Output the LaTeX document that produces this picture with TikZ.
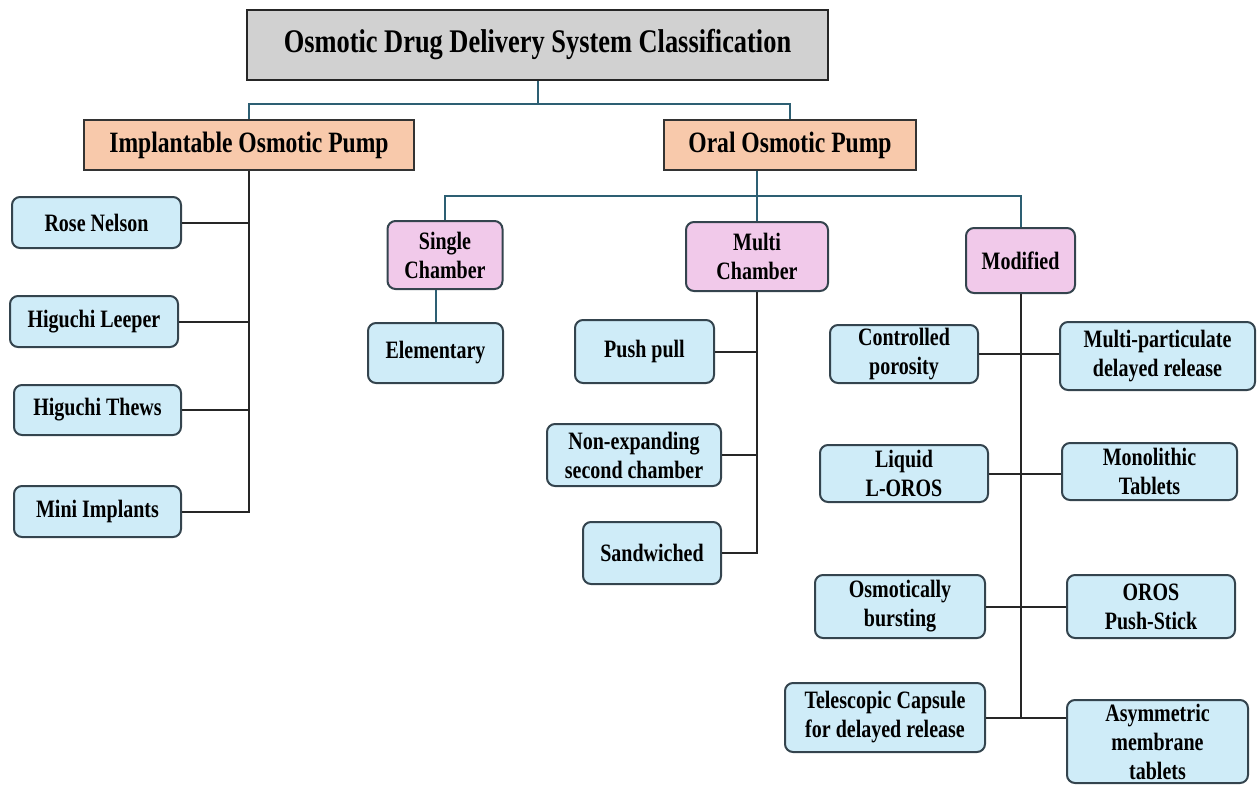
\documentclass[tikz,border=0pt]{standalone}
\usepackage{fontspec}
\setmainfont{Liberation Serif}[FakeStretch=0.8]
\usepackage{tikz}
\usetikzlibrary{positioning}

\definecolor{titlegray}{RGB}{209,209,209}
\definecolor{pumpsalmon}{RGB}{248,201,171}
\definecolor{grouppink}{RGB}{241,201,234}
\definecolor{leafblue}{RGB}{207,236,248}
\definecolor{leafline}{RGB}{52,68,78}
\definecolor{toplink}{RGB}{45,95,115}

\begin{document}
\begin{tikzpicture}[
  x=1pt, y=-1pt,
  wh/.style 2 args={minimum width=#1pt, minimum height=#2pt},
  titlebox/.style={
    rectangle, draw=black!85, line width=2.2pt,
    fill=titlegray, inner sep=2pt,
    font=\fontsize{33}{36}\selectfont\bfseries
  },
  pump/.style={
    rectangle, draw=black!80, line width=2pt,
    fill=pumpsalmon, inner sep=2pt,
    font=\fontsize{29.5}{32}\selectfont\bfseries
  },
  group/.style={
    rectangle, rounded corners=8pt,
    draw=leafline, line width=2pt,
    fill=grouppink, align=center, inner sep=2pt,
    font=\fontsize{25}{29}\selectfont\bfseries
  },
  leaf/.style={
    rectangle, rounded corners=8pt,
    draw=leafline, line width=2pt,
    fill=leafblue, align=center, inner sep=2pt,
    font=\fontsize{25}{29}\selectfont\bfseries
  },
  link/.style={draw=black!85, line width=2pt},
  toplinkline/.style={draw=toplink, line width=2pt}
]
\useasboundingbox (0,0) rectangle (1259,785);

% Root and first level
\node[titlebox, wh={581}{70}] (root) at (537.5,45) {Osmotic Drug Delivery System Classification};
\node[pump, wh={330}{50}] (impl) at (249,145) {Implantable Osmotic Pump};
\node[pump, wh={252}{50}] (oral) at (790,145) {Oral Osmotic Pump};

% Implantable branch
\node[leaf, wh={169}{51}] (rose) at (96.5,222.5) {Rose Nelson};
\node[leaf, wh={168}{51}] (leeper) at (94,321.5) {Higuchi Leeper};
\node[leaf, wh={167}{50}] (thews) at (97.5,410) {Higuchi Thews};
\node[leaf, wh={167}{51}] (mini) at (97.5,511.5) {Mini Implants};

% Oral branch: groups
\node[group, wh={115}{68}] (single) at (445,255) {Single\\Chamber};
\node[group, wh={142}{69}] (multi) at (757,256.5) {Multi\\Chamber};
\node[group, wh={109}{65}] (modified) at (1020.5,260.5) {Modified};

% Single and multi chamber
\node[leaf, wh={135}{60}] (elem) at (435.5,353) {Elementary};
\node[leaf, wh={139}{63}] (push) at (644.5,351.5) {Push pull};
\node[leaf, wh={174}{62}] (nonexp) at (634,455) {Non-expanding\\second chamber};
\node[leaf, wh={138}{62}] (sand) at (652,553) {Sandwiched};

% Modified
\node[leaf, wh={148}{58}] (contr) at (904,354) {Controlled\\porosity};
\node[leaf, wh={195}{68}] (multip) at (1157.5,356) {Multi-particulate\\delayed release};
\node[leaf, wh={168}{57}] (liquid) at (904,473.5) {Liquid\\L-OROS};
\node[leaf, wh={175}{57}] (mono) at (1149.5,471.5) {Monolithic\\Tablets};
\node[leaf, wh={170}{63}] (osmo) at (900,606.5) {Osmotically\\bursting};
\node[leaf, wh={168}{63}] (oros) at (1151,606.5) {OROS\\Push-Stick};
\node[leaf, wh={200}{69}] (tele) at (885,717.5) {Telescopic Capsule\\for delayed release};
\node[leaf, wh={181}{83}] (asym) at (1157.5,741.5) {Asymmetric\\membrane\\tablets};

% Bus points
\coordinate (rootbus) at (537.5,104);
\coordinate (oralbus) at (757,196);

% Connectors
\draw[toplinkline] (root) -- (rootbus);
\draw[toplinkline] (impl.north) |- (rootbus) -| (oral.north);
\draw[toplinkline] (multi.north |- oral.south) -- (multi.north);
\draw[toplinkline] (single.north) |- (oralbus) -| (modified.north);
\draw[toplinkline] (elem.north) -- (elem.north |- single.south);

\draw[link] (impl.south) |- (mini.east);
\draw[link] (rose.east) -- (rose.east -| impl.south);
\draw[link] (leeper.east) -- (leeper.east -| impl.south);
\draw[link] (thews.east) -- (thews.east -| impl.south);

\draw[link] (multi.south) |- (sand.east);
\draw[link] (push.east) -- (push.east -| multi.south);
\draw[link] (nonexp.east) -- (nonexp.east -| multi.south);

\draw[link] (modified.south) -- (modified.south |- tele.east);
\draw[link] (contr.east) -- (contr.east -| multip.west);
\draw[link] (liquid.east) -- (liquid.east -| mono.west);
\draw[link] (osmo.east) -- (osmo.east -| oros.west);
\draw[link] (tele.east) -- (tele.east -| asym.west);

\end{tikzpicture}
\end{document}
